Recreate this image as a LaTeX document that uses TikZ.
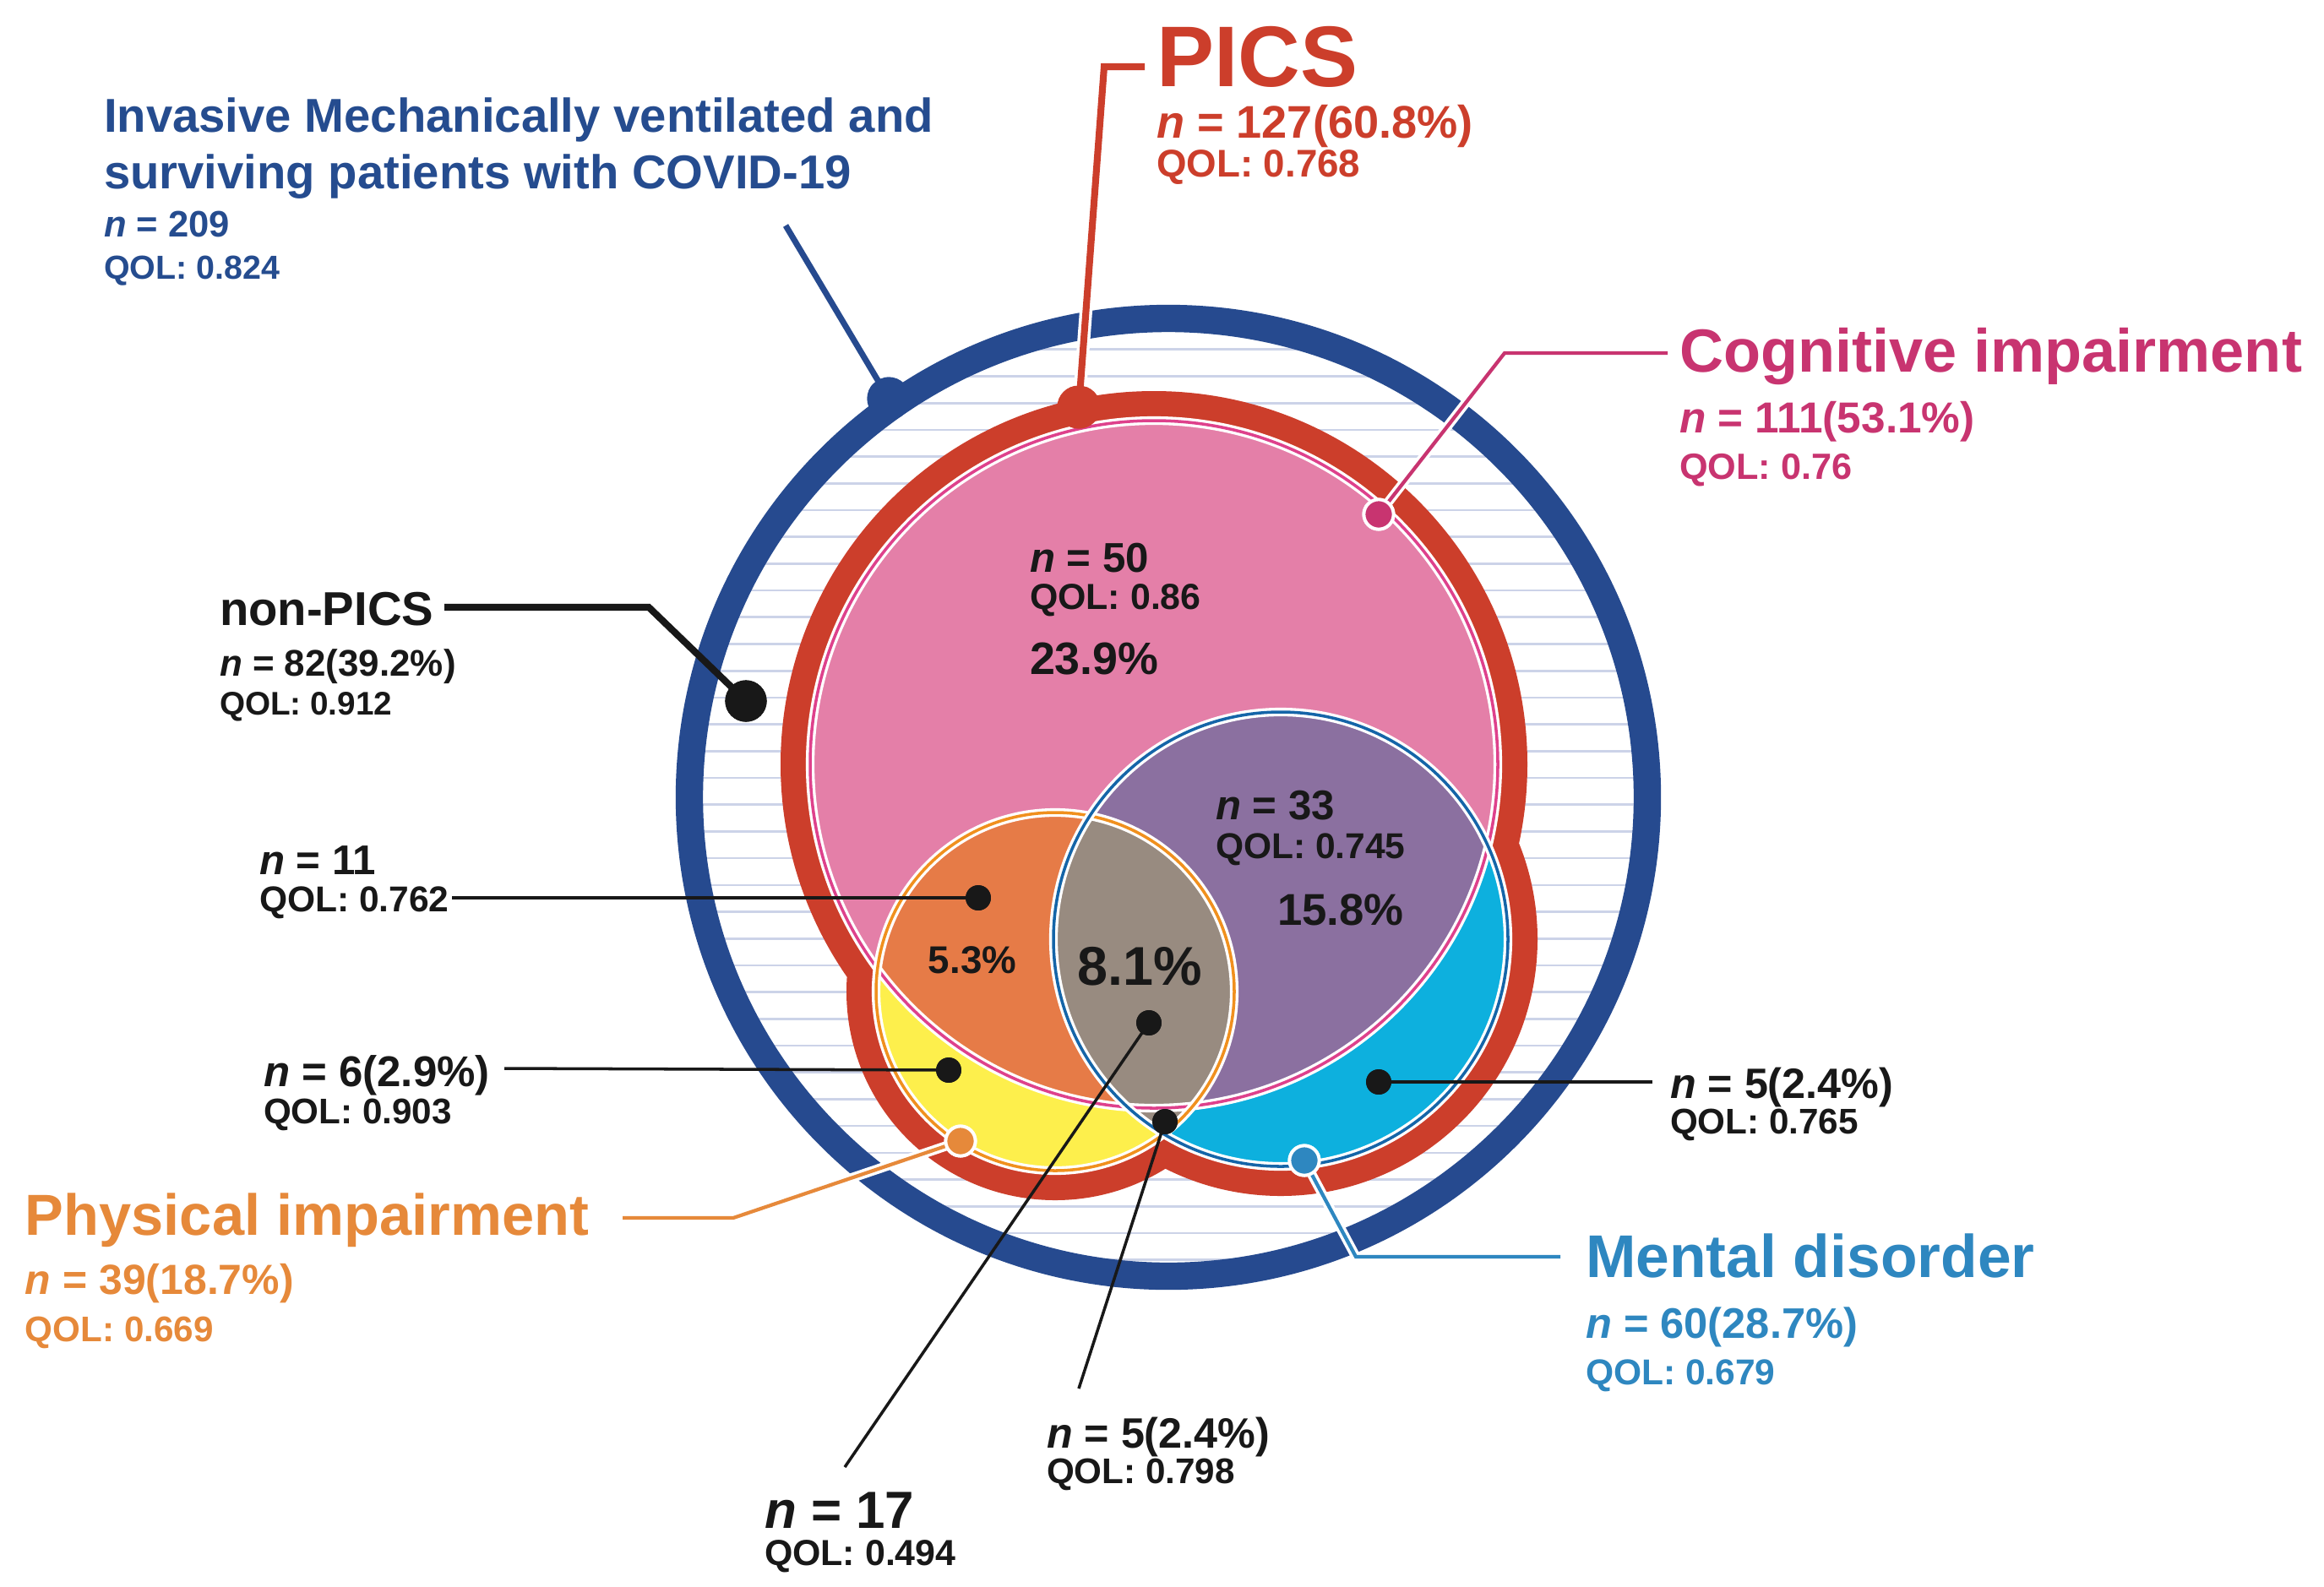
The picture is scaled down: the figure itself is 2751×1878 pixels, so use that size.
\documentclass[tikz,border=0pt]{standalone}
\usepackage{fontspec}
\setmainfont{Liberation Sans}
\newcommand{\myfs}[1]{\fontsize{#1pt}{#1pt}\selectfont\bfseries}
\newcommand{\nn}{\textit{n}}
\definecolor{ringblue}{RGB}{38,74,143}
\definecolor{titleblue}{RGB}{37,76,143}
\definecolor{picsred}{RGB}{204,62,43}
\definecolor{hatchc}{RGB}{204,211,232}
\definecolor{pinkfill}{RGB}{228,127,168}
\definecolor{pinkline}{RGB}{222,65,140}
\definecolor{cogtext}{RGB}{200,52,112}
\definecolor{yellowfill}{RGB}{253,239,76}
\definecolor{orangefill}{RGB}{230,123,71}
\definecolor{orangeline}{RGB}{240,144,30}
\definecolor{phystext}{RGB}{230,137,58}
\definecolor{cyanfill}{RGB}{13,176,222}
\definecolor{blueline}{RGB}{21,101,168}
\definecolor{mentext}{RGB}{46,135,192}
\definecolor{purplefill}{RGB}{139,112,160}
\definecolor{greyfill}{RGB}{152,139,128}
\definecolor{dotblack}{RGB}{24,24,24}
\tikzset{
  lbl/.style={anchor=base west, inner sep=0pt, outer sep=0pt},
  hatch/.style={hatchc, line width=0.75pt},
  smalldot/.style={circle, fill=dotblack, inner sep=0pt, minimum size=8.5pt},
  bigdot/.style={circle, fill=dotblack, inner sep=0pt, minimum size=14pt},
  coldot/.style={circle, fill=#1, draw=white, line width=1.1pt, inner sep=0pt, minimum size=10pt},
  ringdot/.style={circle, fill=#1, inner sep=0pt, minimum size=14.5pt},
  thinlead/.style={dotblack, line width=1pt},
  collead/.style={draw=white, double=#1, double distance=1.2pt, line width=1pt},
  whiteedge/.style={white, line width=2.9pt},
}
\begin{document}
\begin{tikzpicture}[x=0.01cm,y=-0.01cm]
\fill[white] (0,0) rectangle (2751,1878);
\useasboundingbox (0,0) rectangle (2751,1878);

\coordinate (C) at (1383,944);
\coordinate (P) at (1366,905);
\coordinate (O) at (1249,1174);
\coordinate (B) at (1516,1112);

% hatching inside the blue ring
\begin{scope}
  \clip (C) circle[radius=556];
  \foreach \k in {-8,...,29}{
    \draw[hatch] (780,{604+31.7*\k}) -- (1990,{604+31.7*\k});
  }
\end{scope}
\draw[ringblue, line width=9.2pt] (C) circle[radius=567];

% PICS red band (union)
\fill[picsred] (P) circle[radius=442] (O) circle[radius=247] (B) circle[radius=304];

% region fills
\fill[pinkfill] (P) circle[radius=407];
\fill[yellowfill] (O) circle[radius=212];
\fill[cyanfill] (B) circle[radius=269];
\begin{scope}
  \clip (O) circle[radius=212];
  \fill[greyfill] (B) circle[radius=269];
\end{scope}
\begin{scope}
  \clip (P) circle[radius=407];
  \fill[orangefill] (O) circle[radius=212];
  \fill[purplefill] (B) circle[radius=269];
  \clip (O) circle[radius=212];
  \fill[greyfill] (B) circle[radius=269];
\end{scope}

% outlines
\draw[whiteedge] (P) circle[radius=407];
\draw[pinkline, line width=1pt] (P) circle[radius=407];
\draw[whiteedge] (O) circle[radius=212];
\draw[orangeline, line width=1pt] (O) circle[radius=212];
\draw[whiteedge] (B) circle[radius=269];
\draw[blueline, line width=1pt] (B) circle[radius=269];

% ---------- dots ----------
\node[ringdot=ringblue] (dtot) at (1052,472) {};
\node[ringdot=picsred] (dpics) at (1277,482) {};
\node[coldot=cogtext] (dcog) at (1632,609) {};
\node[bigdot] (dnon) at (883,830) {};
\node[smalldot] (d11) at (1158,1063) {};
\node[smalldot] (d17) at (1360,1211) {};
\node[smalldot] (d6) at (1123,1267) {};
\node[smalldot] (d5r) at (1632,1281) {};
\node[smalldot] (d5b) at (1379,1328) {};
\node[coldot=phystext] (dphys) at (1137,1351) {};
\node[coldot=mentext] (dment) at (1544,1374) {};

% ---------- labels ----------
% total
\node[lbl, text=titleblue, font=\myfs{16}] (t1) at (123,156) {Invasive Mechanically ventilated and};
\node[lbl, text=titleblue, font=\myfs{16}] (t2) at (123,223) {surviving patients with COVID-19};
\node[lbl, text=titleblue, font=\myfs{12.4}] (t3) at (123,280) {\nn{} = 209};
\node[lbl, text=titleblue, font=\myfs{11.2}] (t4) at (123,330) {QOL: 0.824};
% PICS
\node[lbl, text=picsred, font=\myfs{29}] (p1) at (1369,102) {PICS};
\node[lbl, text=picsred, font=\myfs{15.4}] (p2) at (1369,163) {\nn{} = 127(60.8\%)};
\node[lbl, text=picsred, font=\myfs{13}] (p3) at (1369,209) {QOL: 0.768};
% Cognitive
\node[lbl, text=cogtext, font=\myfs{20.5}] (c1) at (1988,440) {Cognitive impairment};
\node[lbl, text=cogtext, font=\myfs{14.6}] (c2) at (1988,512) {\nn{} = 111(53.1\%)};
\node[lbl, text=cogtext, font=\myfs{12.3}] (c3) at (1988,567) {QOL: 0.76};
% non-PICS
\node[lbl, text=dotblack, font=\myfs{16}] (np1) at (260,740) {non-PICS};
\node[lbl, text=dotblack, font=\myfs{12.5}] (np2) at (260,800) {\nn{} = 82(39.2\%)};
\node[lbl, text=dotblack, font=\myfs{11}] (np3) at (260,846) {QOL: 0.912};
% n=50
\node[lbl, text=dotblack, font=\myfs{14}] (a1) at (1219,677) {\nn{} = 50};
\node[lbl, text=dotblack, font=\myfs{12.2}] (a2) at (1219,721) {QOL: 0.86};
\node[lbl, text=dotblack, font=\myfs{15.3}] (a3) at (1219,798) {23.9\%};
% n=33
\node[lbl, text=dotblack, font=\myfs{14}] (b1) at (1439,970) {\nn{} = 33};
\node[lbl, text=dotblack, font=\myfs{12.1}] (b2) at (1439,1016) {QOL: 0.745};
\node[lbl, text=dotblack, font=\myfs{15}] (b3) at (1512,1095) {15.8\%};
% percentages
\node[inner sep=0pt, text=dotblack, font=\myfs{13}] (pc53) at (1151,1137) {5.3\%};
\node[inner sep=0pt, text=dotblack, font=\myfs{18.4}] (pc81) at (1349,1144) {8.1\%};
% n=11
\node[lbl, text=dotblack, font=\myfs{14}] (e1) at (307,1035) {\nn{} = 11};
\node[lbl, text=dotblack, font=\myfs{12.1}] (e2) at (307,1079) {QOL: 0.762};
% n=6
\node[lbl, text=dotblack, font=\myfs{14.5}] (f1) at (312,1286) {\nn{} = 6(2.9\%)};
\node[lbl, text=dotblack, font=\myfs{12}] (f2) at (312,1330) {QOL: 0.903};
% Physical
\node[lbl, text=phystext, font=\myfs{19.5}] (ph1) at (30,1462) {Physical impairment};
\node[lbl, text=phystext, font=\myfs{14.2}] (ph2) at (30,1532) {\nn{} = 39(18.7\%)};
\node[lbl, text=phystext, font=\myfs{12}] (ph3) at (30,1588) {QOL: 0.669};
% n=5 right
\node[lbl, text=dotblack, font=\myfs{14.3}] (g1) at (1977,1300) {\nn{} = 5(2.4\%)};
\node[lbl, text=dotblack, font=\myfs{12}] (g2) at (1977,1342) {QOL: 0.765};
% Mental
\node[lbl, text=mentext, font=\myfs{20.3}] (m1) at (1877,1512) {Mental disorder};
\node[lbl, text=mentext, font=\myfs{14.4}] (m2) at (1877,1584) {\nn{} = 60(28.7\%)};
\node[lbl, text=mentext, font=\myfs{12.1}] (m3) at (1877,1639) {QOL: 0.679};
% n=5 bottom
\node[lbl, text=dotblack, font=\myfs{14.3}] (h1) at (1239,1714) {\nn{} = 5(2.4\%)};
\node[lbl, text=dotblack, font=\myfs{12}] (h2) at (1239,1756) {QOL: 0.798};
% n=17
\node[lbl, text=dotblack, font=\myfs{17.6}] (k1) at (905,1809) {\nn{} = 17};
\node[lbl, text=dotblack, font=\myfs{12.2}] (k2) at (905,1853) {QOL: 0.494};

% ---------- leaders ----------
\coordinate (ltot) at (930,267);
\draw[collead=ringblue, double distance=2pt] (ltot) -- (dtot.center);
\coordinate (lpa) at (1355,79);
\coordinate (lpb) at (1307,79);
\draw[collead=picsred, double distance=2.3pt] (lpa) -- (lpb) -- (dpics.center);
\coordinate (lca) at (1974,418);
\coordinate (lcb) at (1781,418);
\draw[collead=cogtext] (lca) -- (lcb) -- (dcog.center);
\coordinate (lna) at (526,719);
\coordinate (lnb) at (768,719);
\draw[dotblack, line width=2.3pt] (lna) -- (lnb) -- (dnon.center);
\coordinate (l11) at (535,1063);
\draw[thinlead] (l11) -- (d11.center);
\coordinate (l6) at (597,1265);
\draw[thinlead] (l6) -- (d6.center);
\coordinate (l5r) at (1956,1281);
\draw[thinlead] (l5r) -- (d5r.center);
\coordinate (l5b) at (1277,1644);
\draw[thinlead] (l5b) -- (d5b.center);
\coordinate (l17) at (1000,1737);
\draw[thinlead] (l17) -- (d17.center);
\coordinate (lpha) at (737,1442);
\coordinate (lphb) at (868,1442);
\draw[collead=phystext] (lpha) -- (lphb) -- (dphys.center);
\coordinate (lma) at (1847,1488);
\coordinate (lmb) at (1605,1488);
\draw[collead=mentext] (lma) -- (lmb) -- (dment.center);

% redraw dots on top of leaders
\node[ringdot=ringblue] at (dtot) {};
\node[ringdot=picsred] at (dpics) {};
\node[coldot=cogtext] at (dcog) {};
\node[bigdot] at (dnon) {};
\node[smalldot] at (d11) {};
\node[smalldot] at (d17) {};
\node[smalldot] at (d6) {};
\node[smalldot] at (d5r) {};
\node[smalldot] at (d5b) {};
\node[coldot=phystext] at (dphys) {};
\node[coldot=mentext] at (dment) {};
\end{tikzpicture}
\end{document}
